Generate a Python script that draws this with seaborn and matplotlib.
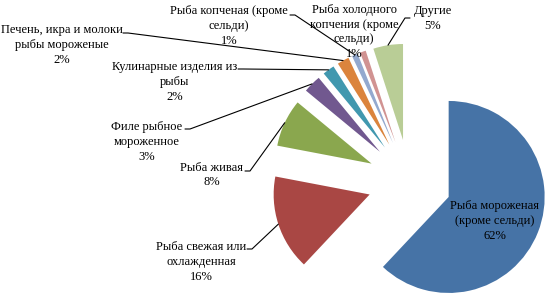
import numpy as np
import matplotlib
matplotlib.use('Agg')
import matplotlib.pyplot as plt
import seaborn as sns

# Data
labels = ["Рыба мороженая\n(кроме сельди)", "Рыба свежая или\nохлажденная", "Рыба живая",
          "Филе рыбное\nмороженное", "Кулинарные изделия из\nрыбы",
          "Печень, икра и молоки\nрыбы мороженые", "Рыба копченая (кроме\nсельди)",
          "Рыба холодного\nкопчения (кроме\nсельди)", "Другие"]
shares = [62, 16, 8, 3, 2, 2, 1, 1, 5]
colors = ["#4673A6", "#A94744", "#8AA74E", "#71588F", "#4198AF",
          "#DB843D", "#93A9CF", "#D19392", "#B9CD96"]

# label layout in pixels: centre of text block, start of leader line (None = no line)
label_pos = [(495, 221), (201, 262), (212, 175), (147, 142), (175, 82),
             (62, 45), (229, 26), (354, 32), (433, 18.5)]
leader_start = [None, (247, 249), (245, 171), (185, 129), (238, 69),
                (123, 33), (290, 15), None, (410, 18)]

W, H = 552, 302
R_PX = 96.0
CX, CY = 409.6, 181.5

sns.set_style("white")
plt.rcParams['font.family'] = ['Liberation Serif', 'DejaVu Serif']

fig = plt.figure(figsize=(W / 100, H / 100), dpi=100)
ax = fig.add_axes([0, 0, 1, 1])

wedges, _ = ax.pie(shares, colors=colors, startangle=90, counterclock=False,
                   explode=[42 / R_PX] * len(shares), radius=1,
                   wedgeprops=dict(linewidth=0))

ax.set_xlim(-CX / R_PX, (W - CX) / R_PX)
ax.set_ylim(-(H - CY) / R_PX, CY / R_PX)
ax.axis('off')


def to_data(px, py):
    return ax.transData.inverted().transform((px, H - py))


total = sum(shares)
for w, lab, val, pos, start in zip(wedges, labels, shares, label_pos, leader_start):
    pct = f"{round(100 * val / total)}%"
    tx, ty = to_data(*pos)
    ax.text(tx, ty, f"{lab}\n{pct}", ha='center', va='center', fontsize=9,
            color='black', linespacing=1.3, multialignment='center')
    if start is None:
        continue
    mid = np.deg2rad((w.theta1 + w.theta2) / 2)
    ex = w.center[0] + w.r * np.cos(mid)
    ey = w.center[1] + w.r * np.sin(mid)
    sx, sy = to_data(*start)
    step = 5 / R_PX if sx < ex else -5 / R_PX
    ax.plot([sx, sx + step, ex], [sy, sy, ey], color='black', lw=0.8)

fig.savefig("out.png", dpi=100)
plt.close(fig)
